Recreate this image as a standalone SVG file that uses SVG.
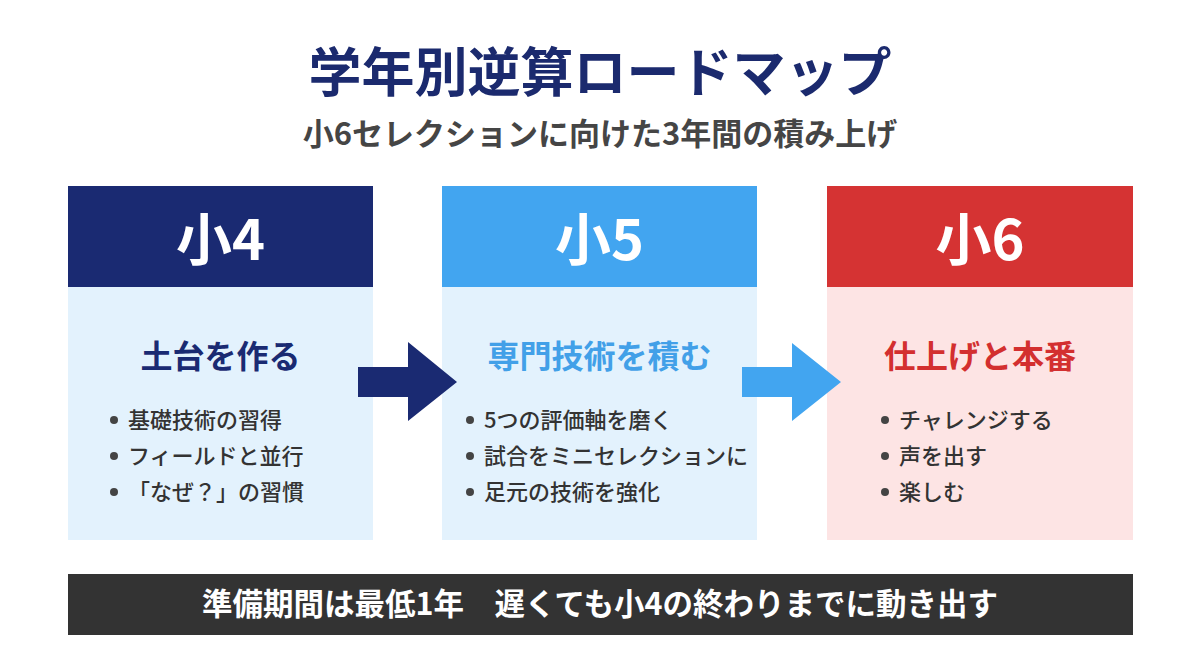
<svg xmlns="http://www.w3.org/2000/svg" width="1200" height="669" viewBox="0 0 1200 669">
<style>
text{font-family:"Noto Sans CJK JP","Noto Sans",sans-serif;}
.title{font-size:53px;font-weight:700;fill:#1b2a6e;}
.sub{font-size:31px;font-weight:700;fill:#454545;}
.hdr{font-size:56px;font-weight:700;fill:#ffffff;}
.head{font-size:32px;font-weight:700;}
.item{font-size:22px;font-weight:500;fill:#333333;}
.dot{fill:#444444;}
.bar{font-size:30.5px;font-weight:700;fill:#ffffff;}
</style>
<rect width="1200" height="669" fill="#ffffff"/>
<text class="title" x="600" y="92" text-anchor="middle">学年別逆算ロードマップ</text>
<text class="sub" x="600" y="145" text-anchor="middle">小6セレクションに向けた3年間の積み上げ</text>

<g id="node-g4">
<rect x="68" y="287" width="305" height="253" fill="#e3f2fd"/>
<rect x="68" y="186" width="305" height="101" fill="#1a2a72"/>
<text class="hdr" x="220.5" y="260" text-anchor="middle">小4</text>
<text class="head" x="220.5" y="368" text-anchor="middle" fill="#1a2a72">土台を作る</text>
<circle class="dot" cx="114" cy="420" r="4"/><text class="item" x="128" y="428">基礎技術の習得</text>
<circle class="dot" cx="114" cy="456" r="4"/><text class="item" x="128" y="464">フィールドと並行</text>
<circle class="dot" cx="114" cy="492" r="4"/><text class="item" x="128" y="500">「なぜ？」の習慣</text>
</g>

<g id="node-g5">
<rect x="442" y="287" width="315" height="253" fill="#e3f2fd"/>
<rect x="442" y="186" width="315" height="101" fill="#42a5f0"/>
<text class="hdr" x="599.5" y="260" text-anchor="middle">小5</text>
<text class="head" x="599.5" y="368" text-anchor="middle" fill="#42a0e8">専門技術を積む</text>
<circle class="dot" cx="470" cy="420" r="4"/><text class="item" x="484" y="428">5つの評価軸を磨く</text>
<circle class="dot" cx="470" cy="456" r="4"/><text class="item" x="484" y="464">試合をミニセレクションに</text>
<circle class="dot" cx="470" cy="492" r="4"/><text class="item" x="484" y="500">足元の技術を強化</text>
</g>

<g id="node-g6">
<rect x="827" y="287" width="306" height="253" fill="#fde4e4"/>
<rect x="827" y="186" width="306" height="101" fill="#d53333"/>
<text class="hdr" x="980" y="260" text-anchor="middle">小6</text>
<text class="head" x="980" y="368" text-anchor="middle" fill="#d32f2f">仕上げと本番</text>
<circle class="dot" cx="885" cy="420" r="4"/><text class="item" x="899" y="428">チャレンジする</text>
<circle class="dot" cx="885" cy="456" r="4"/><text class="item" x="899" y="464">声を出す</text>
<circle class="dot" cx="885" cy="492" r="4"/><text class="item" x="899" y="500">楽しむ</text>
</g>

<g id="connectors">
<polygon points="358,367 408,367 408,342 457,382 408,421 408,397 358,397" fill="#1a2a72"/>
<polygon points="742,367 792,367 792,343 841,382 792,421 792,397 742,397" fill="#42a5f0"/>
</g>

<g id="footer">
<rect x="68" y="574" width="1065" height="61" fill="#333333"/>
<text class="bar" x="600" y="615" text-anchor="middle">準備期間は最低1年　遅くても小4の終わりまでに動き出す</text>
</g>
</svg>
